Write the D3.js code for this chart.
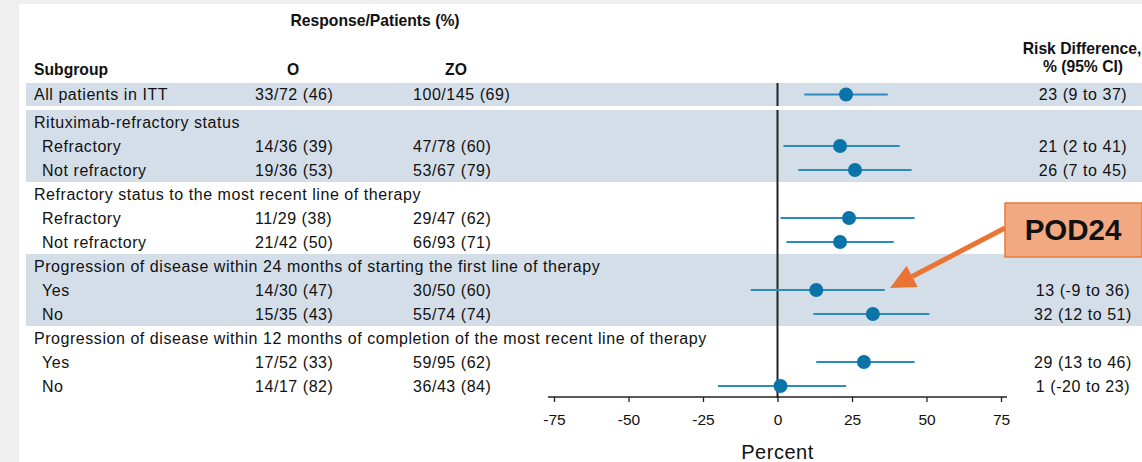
<!DOCTYPE html>
<html>
<head>
<meta charset="utf-8">
<script src="https://cdn.jsdelivr.net/npm/d3@7"></script>
<style>
  html, body { margin: 0; padding: 0; background: #efefef; }
  svg { display: block; }
  text { font-family: "Liberation Sans", Arial, sans-serif; fill: #111; }
  .hdr { font-weight: bold; font-size: 15.7px; }
  .cell { font-size: 16px; letter-spacing: 0.55px; }
</style>
</head>
<body>
<div id="chart"></div>
<script>
// rows of the forest plot
const labels = ["All patients in ITT", "Rituximab-refractory status", "Refractory", "Not refractory",
  "Refractory status to the most recent line of therapy", "Refractory", "Not refractory",
  "Progression of disease within 24 months of starting the first line of therapy", "Yes", "No",
  "Progression of disease within 12 months of completion of the most recent line of therapy", "Yes", "No"];
const level = [0, 0, 1, 1, 0, 1, 1, 0, 1, 1, 0, 1, 1];
const armO = ["33/72 (46)", "", "14/36 (39)", "19/36 (53)", "", "11/29 (38)", "21/42 (50)", "", "14/30 (47)", "15/35 (43)", "", "17/52 (33)", "14/17 (82)"];
const armZO = ["100/145 (69)", "", "47/78 (60)", "53/67 (79)", "", "29/47 (62)", "66/93 (71)", "", "30/50 (60)", "55/74 (74)", "", "59/95 (62)", "36/43 (84)"];
const estimate = [23, null, 21, 26, null, 24, 21, null, 13, 32, null, 29, 1];
const lower = [9, null, 2, 7, null, 1, 3, null, -9, 12, null, 13, -20];
const upper = [37, null, 41, 45, null, 46, 39, null, 36, 51, null, 46, 23];
const riskText = ["23 (9 to 37)", "", "21 (2 to 41)", "26 (7 to 45)", "", "", "", "", "13 (-9 to 36)", "32 (12 to 51)", "", "29 (13 to 46)", "1 (-20 to 23)"];
const shaded = [[0, 0], [1, 3], [7, 9]];
const xTicks = [-75, -50, -25, 0, 25, 50, 75];

const W = 1142, H = 462;
const svg = d3.select("#chart").append("svg").attr("width", W).attr("height", H);

// white panel
svg.append("rect").attr("x", 19).attr("y", 4).attr("width", W - 19).attr("height", H - 4).attr("fill", "#fff");

const x = d3.scaleLinear().domain([-75, 75]).range([554, 1001]);
const yRow = d3.scaleLinear().domain([1, 13]).range([110, 398]);
const rowTop = i => i === 0 ? 83 : yRow(i);
const rowH = i => i === 0 ? 23 : 24;
const rowMid = i => rowTop(i) + rowH(i) / 2;

// shaded bands
svg.selectAll("rect.band").data(shaded).enter().append("rect")
  .attr("class", "band")
  .attr("x", 26).attr("width", W - 26)
  .attr("y", d => rowTop(d[0]))
  .attr("height", d => rowTop(d[1]) + rowH(d[1]) - rowTop(d[0]))
  .attr("fill", "#d4dee9");

// headers
svg.append("text").attr("class", "hdr").attr("x", 375).attr("y", 26).attr("text-anchor", "middle").text("Response/Patients (%)");
svg.append("text").attr("class", "hdr").attr("x", 34).attr("y", 75).text("Subgroup");
svg.append("text").attr("class", "hdr").attr("x", 293).attr("y", 75).attr("text-anchor", "middle").text("O");
svg.append("text").attr("class", "hdr").attr("x", 456).attr("y", 75).attr("text-anchor", "middle").text("ZO");
svg.append("text").attr("class", "hdr").attr("x", 1082).attr("y", 54).attr("text-anchor", "middle").text("Risk Difference,");
svg.append("text").attr("class", "hdr").attr("x", 1083).attr("y", 72).attr("text-anchor", "middle").text("% (95% CI)");

const rows = svg.selectAll("g.row").data(labels).enter().append("g").attr("class", "row");
rows.append("text").attr("class", "cell")
  .attr("x", (d, i) => 34 + level[i] * 8)
  .attr("y", (d, i) => rowMid(i) + 5.5)
  .text(d => d);
rows.append("text").attr("class", "cell").attr("x", 255).attr("y", (d, i) => rowMid(i) + 5.5).text((d, i) => armO[i]);
rows.append("text").attr("class", "cell").attr("x", 413).attr("y", (d, i) => rowMid(i) + 5.5).text((d, i) => armZO[i]);
rows.append("text").attr("class", "cell").attr("x", 1083).attr("text-anchor", "middle")
  .attr("y", (d, i) => rowMid(i) + 5.5).text((d, i) => riskText[i]);

// zero line, broken at the gap under the first row
svg.append("line").attr("x1", x(0)).attr("x2", x(0)).attr("y1", rowTop(0)).attr("y2", rowTop(0) + rowH(0))
  .attr("stroke", "#222").attr("stroke-width", 2);
svg.append("line").attr("x1", x(0)).attr("x2", x(0)).attr("y1", yRow(1)).attr("y2", yRow(13))
  .attr("stroke", "#222").attr("stroke-width", 2);

// CI lines and points
const pts = estimate.map((e, i) => ({e, lo: lower[i], hi: upper[i], i})).filter(d => d.e !== null);
svg.selectAll("line.ci").data(pts).enter().append("line")
  .attr("x1", d => x(d.lo)).attr("x2", d => x(d.hi))
  .attr("y1", d => rowMid(d.i)).attr("y2", d => rowMid(d.i))
  .attr("stroke", "#2a8cc0").attr("stroke-width", 2);
svg.selectAll("circle.pt").data(pts).enter().append("circle")
  .attr("cx", d => x(d.e)).attr("cy", d => rowMid(d.i)).attr("r", 7)
  .attr("fill", "#0a73a7");

// axis
const axisY = yRow(13) - 1;
const ax = svg.append("g").attr("transform", `translate(0,${axisY})`)
  .call(d3.axisBottom(x).tickValues(xTicks).tickFormat(d => String(d)).tickSize(5).tickSizeOuter(0).tickPadding(12));
ax.select(".domain").remove();
ax.selectAll(".tick line").attr("stroke", "#222").attr("stroke-width", 1.3);
ax.selectAll(".tick text").style("font-size", "15.5px").style("font-family", "'Liberation Sans', Arial, sans-serif").style("fill", "#111");
ax.append("line").attr("x1", x(-77)).attr("x2", x(77)).attr("stroke", "#222").attr("stroke-width", 1.5);
svg.append("text").attr("x", x(0)).attr("y", 459).attr("text-anchor", "middle")
  .style("font-size", "20px").style("letter-spacing", "0.5px").text("Percent");

// POD24 annotation
svg.append("rect").attr("x", 1005).attr("y", 203).attr("width", 137).attr("height", 54)
  .attr("fill", "#f2a982").attr("stroke", "#ea7a3c").attr("stroke-width", 1.5);
svg.append("text").attr("x", 1073).attr("y", 240).attr("text-anchor", "middle")
  .style("font-size", "29.5px").style("font-weight", "bold").text("POD24");
const tip = [890, 288], tail = [1005, 228];
const len = Math.hypot(tail[0] - tip[0], tail[1] - tip[1]);
const ux = (tail[0] - tip[0]) / len, uy = (tail[1] - tip[1]) / len;
const hl = 25, hw = 12;
const bx = tip[0] + ux * hl, by = tip[1] + uy * hl;
svg.append("line").attr("x1", tail[0]).attr("y1", tail[1]).attr("x2", bx).attr("y2", by)
  .attr("stroke", "#ea7434").attr("stroke-width", 5);
svg.append("path")
  .attr("d", `M${tip[0]},${tip[1]}L${bx - uy * hw},${by + ux * hw}L${bx + uy * hw},${by - ux * hw}Z`)
  .attr("fill", "#ea7434");
</script>
</body>
</html>
